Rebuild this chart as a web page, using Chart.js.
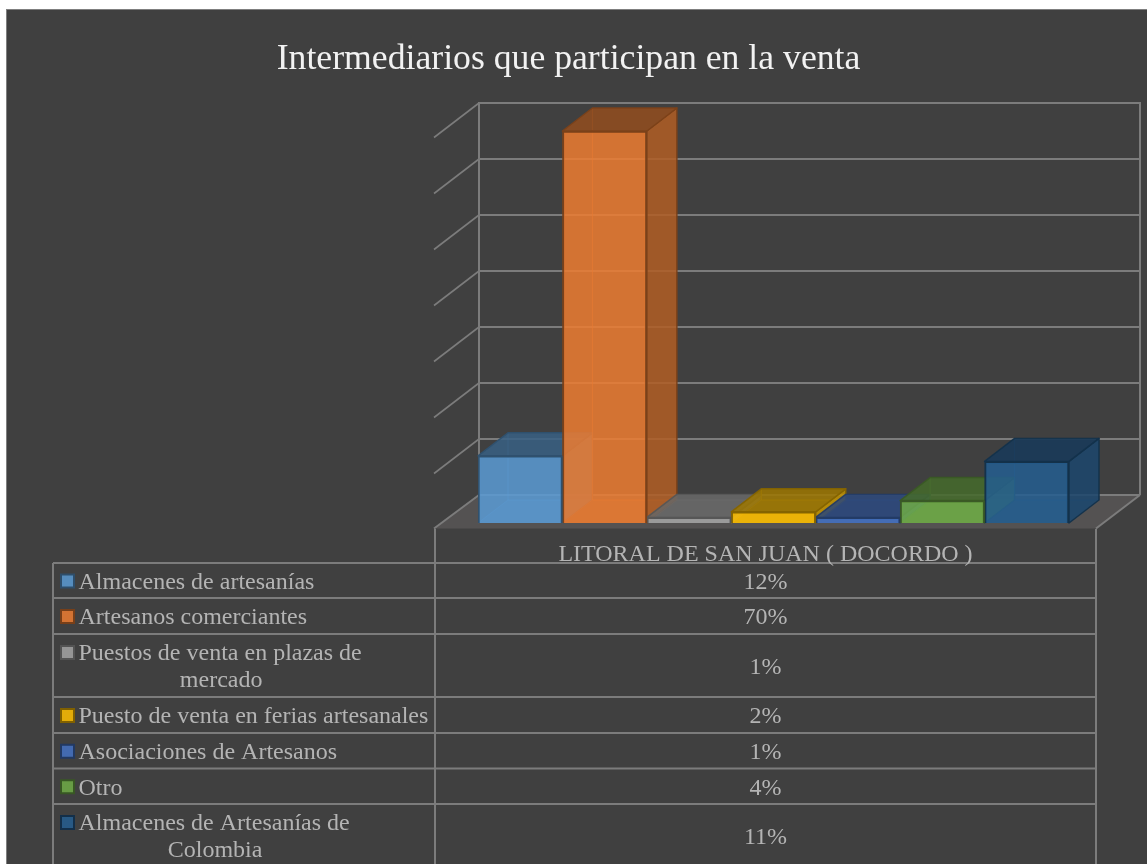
<!DOCTYPE html>
<html>
<head>
<meta charset="utf-8">
<style>
html,body{margin:0;padding:0;background:#fff;overflow:hidden;width:1147px;height:864px}
#frame{position:absolute;left:6px;top:9px;width:1141px;height:855px;background:#404040;border:1.5px solid #7f7f7f;border-right:none;border-bottom:none;box-sizing:border-box}
canvas{position:absolute;left:0;top:0}
</style>
<script src="https://cdn.jsdelivr.net/npm/chart.js@4"></script>
</head>
<body>
<div id="frame"></div>
<canvas id="c" width="1147" height="864"></canvas>
<script>
const titleText = 'Intermediarios que participan en la venta';
const categories = ['LITORAL DE SAN JUAN ( DOCORDO )'];
const seriesNames = [
  'Almacenes de artesanías',
  'Artesanos comerciantes',
  'Puestos de venta en plazas de mercado',
  'Puesto de venta en ferias artesanales',
  'Asociaciones de Artesanos',
  'Otro',
  'Almacenes de Artesanías de Colombia'
];
const seriesValues = [12, 70, 1, 2, 1, 4, 11];
const seriesRGB = [
  [91,155,213],[237,125,49],[165,165,165],[255,192,0],[68,114,196],[112,173,71],[37,94,145]
];

const rgba = (c, k, a) => `rgba(${Math.round(c[0]*k)},${Math.round(c[1]*k)},${Math.round(c[2]*k)},${a})`;

const FONT = '"Liberation Serif","Times New Roman",serif';
const TEXT = '#b4b4b4', LINE = '#7c7c7c';

const DX = 30, DY = -23;          // bar depth
const WALL = {l:479, r:1140, dy:-28, sideX:-45, sideY:34.5};
const TABLE = {l:53, c:435, r:1096, top:563, floor:529};
const rows = [[563,598],[598,634],[634,697],[697,733],[733,768.5],[768.5,804],[804,868]];
const TEXT_DY = 2;

function poly(ctx, pts, fill, stroke, lw){
  ctx.beginPath();
  pts.forEach((p,i)=> i?ctx.lineTo(p[0],p[1]):ctx.moveTo(p[0],p[1]));
  ctx.closePath();
  if(fill){ctx.fillStyle=fill;ctx.fill();}
  if(stroke){ctx.strokeStyle=stroke;ctx.lineWidth=lw||1.5;ctx.lineJoin='round';ctx.stroke();}
}
function seg(ctx,x1,y1,x2,y2,col,lw){
  ctx.beginPath();ctx.moveTo(x1,y1);ctx.lineTo(x2,y2);ctx.strokeStyle=col;ctx.lineWidth=lw;ctx.stroke();
}

const scene3d = {
  id:'scene3d',
  afterLayout(chart){
    chart.titleBlock.left = 0;
    chart.titleBlock.right = 1137;
  },
  beforeDatasetsDraw(chart){
    const ctx = chart.ctx, y = chart.scales.y;
    const base = y.getPixelForValue(0);
    ctx.save();
    // floor
    const fy = base + WALL.dy, fb = fy + WALL.sideY;
    poly(ctx,[[WALL.l,fy],[WALL.r,fy],[WALL.r-44,fb-1],[WALL.l+WALL.sideX,fb-1]],'#545252');
    // gridlines on back and side wall
    y.ticks.forEach(t=>{
      const py = y.getPixelForValue(t.value)+WALL.dy;
      seg(ctx,WALL.l,py,WALL.r,py,LINE,2);
      if(t.value>0) seg(ctx,WALL.l,py,WALL.l+WALL.sideX,py+WALL.sideY,LINE,1.6);
    });
    const topY = y.getPixelForValue(y.max)+WALL.dy;
    seg(ctx,WALL.l,topY-1,WALL.l,fy,LINE,2);
    seg(ctx,WALL.r,topY-1,WALL.r,fy,LINE,2);
    seg(ctx,WALL.l,fy,WALL.l+WALL.sideX,fb-1,LINE,2);
    seg(ctx,WALL.r,fy,WALL.r-44,fb-1,LINE,2);
    // depth of bars: left to right, behind all fronts
    seriesValues.forEach((v,i)=>{
      const b = chart.getDatasetMeta(i).data[0];
      const c = seriesRGB[i];
      const L = b.x-b.width/2, R = b.x+b.width/2, T = b.y, B = b.base;
      const edge = rgba(c,0.52,0.95);
      // back faces, seen through the fronts
      poly(ctx,[[L,B],[R,B],[R+DX,B+DY],[L+DX,B+DY]],rgba(c,0.8,0.28));
      seg(ctx,L+DX,B+DY,L+DX,T+DY,rgba(c,0.9,0.55),1);
      seg(ctx,L+DX,B+DY,R+DX,B+DY,rgba(c,0.9,0.55),1);
      seg(ctx,L+DX,B+DY,L,B,rgba(c,0.9,0.45),1);
      // side
      poly(ctx,[[R,B],[R+DX,B+DY],[R+DX,T+DY],[R,T]],rgba(c,0.75,0.85),edge,1.5);
      // top
      poly(ctx,[[L,T],[R,T],[R+DX,T+DY],[L+DX,T+DY]],rgba(c,0.62,0.85),edge,1.5);
    });
    ctx.restore();
  },
  afterDraw(chart){
    const ctx = chart.ctx;
    ctx.save();
    // table rules
    seg(ctx,TABLE.c,TABLE.floor,TABLE.c,864,LINE,2);
    seg(ctx,TABLE.r,TABLE.floor,TABLE.r,864,LINE,2);
    seg(ctx,TABLE.l,TABLE.top,TABLE.l,864,LINE,2);
    rows.forEach(r=>{ seg(ctx,TABLE.l,r[0],TABLE.r,r[0],LINE,2); });
    ctx.font = '24px '+FONT;
    ctx.fillStyle = TEXT;
    ctx.textBaseline = 'middle';
    // category
    ctx.textAlign='center';
    ctx.fillText(chart.data.labels[0],(TABLE.c+TABLE.r)/2,553+TEXT_DY);
    // rows
    seriesNames.forEach((name,i)=>{
      const r = rows[i], c = seriesRGB[i];
      const cy = (r[0]+r[1])/2;
      ctx.textAlign='center';
      ctx.fillStyle=TEXT;
      ctx.fillText(seriesValues[i]+'%',(TABLE.c+TABLE.r)/2,cy+TEXT_DY);
      // wrap
      let line1=name,line2='';
      if(ctx.measureText(name).width>355){
        const w=name.split(' ');
        while(ctx.measureText(w.join(' ')).width>355 || line2===''){
          line2=w.pop()+(line2?' '+line2:'');
        }
        line1=w.join(' ');
      }
      const y1 = line2 ? r[0]+18 : cy;
      ctx.textAlign='left';
      ctx.fillText(line1,78.5,y1+TEXT_DY);
      if(line2){
        const w1=ctx.measureText(line1).width;
        ctx.textAlign='center';
        ctx.fillText(line2,(60+79+w1)/2+10,y1+27+TEXT_DY);
      }
      // legend key
      ctx.fillStyle=rgba(c,1,0.85);
      ctx.strokeStyle=rgba(c,0.5,1);
      ctx.lineWidth=2;
      ctx.fillRect(61,y1-6,13,13);
      ctx.strokeRect(61,y1-6,13,13);
    });
    ctx.restore();
  }
};

new Chart(document.getElementById('c'),{
  type:'bar',
  data:{
    labels:categories,
    datasets:seriesNames.map((n,i)=>({
      label:n,
      data:[seriesValues[i]],
      backgroundColor:rgba(seriesRGB[i],1,0.85),
      borderColor:rgba(seriesRGB[i],0.52,0.95),
      borderWidth:2,
      barPercentage:1,
      categoryPercentage:1
    }))
  },
  options:{
    responsive:false,
    animation:false,
    events:[],
    layout:{padding:{left:478,right:78,top:0,bottom:341}},
    scales:{
      x:{display:false,grid:{display:false}},
      y:{display:false,min:0,max:70,ticks:{stepSize:10},grid:{display:false}}
    },
    plugins:{
      legend:{display:false},
      tooltip:{enabled:false},
      title:{
        display:true,
        text:titleText,
        color:'#f2f2f2',
        font:{family:FONT,size:35.7,weight:'normal',lineHeight:1.2},
        padding:{top:38.6,bottom:49.56}
      }
    }
  },
  plugins:[scene3d]
});
</script>
</body>
</html>
